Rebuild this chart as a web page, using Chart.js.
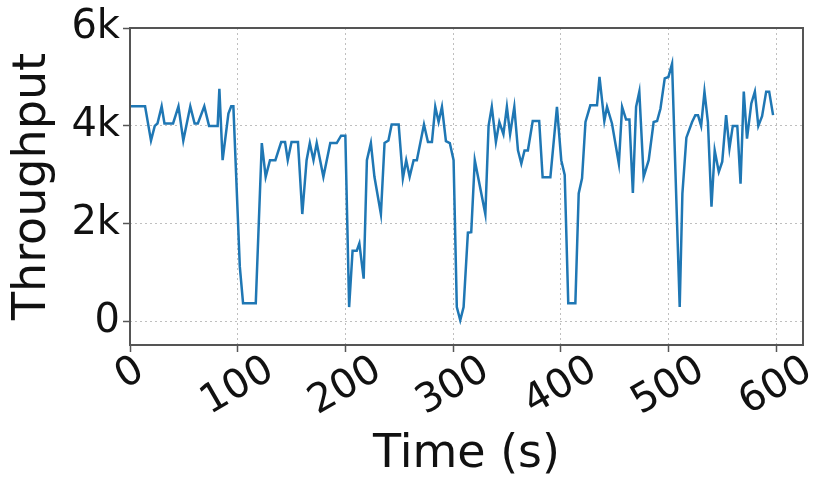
<!DOCTYPE html>
<html>
<head>
<meta charset="utf-8">
<script src="https://cdn.jsdelivr.net/npm/chart.js@4/dist/chart.umd.min.js"></script>
<style>
  html, body { margin: 0; padding: 0; background: #fff; }
</style>
</head>
<body>
<canvas id="lineChart" width="818" height="483"></canvas>
<script>
// time (s) of each sample and the throughput
const times = [
  0, 14, 19.5, 23, 25.5, 29.4, 32, 40, 45, 49.5, 56, 60, 63, 69, 73.4, 81.4, 83, 86, 91.4, 94, 96,
  102, 105, 116.8, 122.4, 126, 130, 135, 140.4, 144, 146.5, 150, 156, 160, 164, 167, 170.4, 173.4,
  179.6, 186, 192, 196, 200, 203.5, 206.7, 210.6, 213, 217, 220, 223.7, 227, 233, 236.4, 240, 243,
  249.5, 253.4, 256.5, 259.7, 263.4, 266.4, 273, 276.7, 280.4, 283.5, 286.6, 289.7, 293.4, 297,
  300.5, 303.5, 306.7, 309.8, 313.8, 316.9, 320.2, 330, 333, 336, 339.8, 343, 346.8, 350, 353,
  356.9, 360.3, 363.4, 366.4, 369.5, 374, 380, 383.2, 390.4, 396.5, 400.5, 403.7, 407, 413.6,
  416.7, 419.8, 423, 427.5, 433.7, 436, 440.5, 443, 447.6, 454, 457, 460.7, 463.8, 467, 470, 473,
  477, 481.7, 486.3, 489.5, 492.6, 496.6, 500, 503.4, 510.5, 513, 516.7, 522, 525, 527.5, 530.4,
  533.5, 536.7, 540, 543, 546.8, 550, 553.6, 556.7, 559.8, 564, 567, 570, 573, 577, 580.3, 583.5,
  587, 590.8, 593.6, 597.2
];
const throughput = [
  4400, 4400, 3700, 4000, 4050, 4400, 4050, 4050, 4400, 3700, 4400, 4050, 4050, 4400, 4000, 4000, 4760, 3300, 4250, 4400, 4400,
  1120, 380, 380, 3650, 2960, 3300, 3300, 3670, 3670, 3300, 3670, 3670, 2200, 3300, 3650, 3300, 3650,
  2960, 3650, 3650, 3800, 3800, 300, 1450, 1450, 1600, 880, 3300, 3650, 2960, 2200, 3650, 3700, 4030,
  4030, 2930, 3300, 2960, 3300, 3300, 4030, 3670, 3670, 4390, 4080, 4390, 3690, 3650,
  3300, 300, 30, 300, 1820, 1830, 3300, 2200, 4000, 4390, 3670, 4080, 3830, 4390, 3830,
  4390, 3500, 3230, 3500, 3500, 4100, 4100, 2950, 2950, 4390, 3300, 3000, 380, 380,
  2620, 2930, 4080, 4420, 4420, 5000, 4100, 4390, 4050, 3230, 4390, 4130, 4130, 2630, 4390, 4700,
  2960, 3300, 4080, 4100, 4350, 4970, 5000, 5270, 300, 2620, 3760, 4080, 4220, 4220, 4000,
  4700, 4080, 2350, 3500, 3060, 3270, 4220, 3540, 4000, 4000, 2820, 4700, 3740, 4460, 4700, 4000,
  4200, 4700, 4700, 4220
];
const xTicks = [0, 100, 200, 300, 400, 500, 600];
const yTicks = [0, 2000, 4000, 6000];
const yTickLabels = ["0", "2k", "4k", "6k"];

const FONT = "'DejaVu Sans', sans-serif";
const TICK_SIZE = 40;

// matplotlib style frame + centred, rotated x tick labels
const frameAndLabels = {
  id: "frameAndLabels",
  afterDraw(chart) {
    const { ctx, chartArea: a, scales } = chart;
    ctx.save();
    ctx.strokeStyle = "#555";
    ctx.lineWidth = 2;
    ctx.strokeRect(a.left, a.top, a.right - a.left, a.bottom - a.top);

    ctx.fillStyle = "#111";
    ctx.font = TICK_SIZE + "px " + FONT;
    ctx.textAlign = "center";
    ctx.textBaseline = "middle";
    const ang = Math.PI / 6;
    xTicks.forEach((v) => {
      const label = String(v);
      const w = ctx.measureText(label).width;
      const h = 0.73 * TICK_SIZE;
      const boxH = w * Math.sin(ang) + h * Math.cos(ang);
      const x = scales.x.getPixelForValue(v);
      const y = a.bottom + 10 + boxH / 2;
      ctx.save();
      ctx.translate(x, y);
      ctx.rotate(-ang);
      ctx.fillText(label, 0, 0);
      ctx.restore();
    });
    ctx.restore();
  },
};

const canvas = document.getElementById("lineChart");

new Chart(canvas, {
  type: "line",
  data: {
    datasets: [
      {
        label: "Throughput",
        data: times.map((t, i) => ({ x: t, y: throughput[i] })),
        borderColor: "#1f77b4",
        borderWidth: 2.5,
        pointRadius: 0,
        tension: 0,
        fill: false,
      },
    ],
  },
  options: {
    responsive: false,
    animation: false,
    layout: { padding: { top: 28, right: 15, left: 0, bottom: 0 } },
    plugins: { legend: { display: false }, tooltip: { enabled: false } },
    scales: {
      x: {
        type: "linear",
        min: 0,
        max: 625,
        afterBuildTicks: (scale) => {
          scale.ticks = xTicks.map((v) => ({ value: v }));
        },
        afterFit: (scale) => {
          scale.height = 138;
        },
        ticks: { display: false },
        grid: {
          color: "rgba(0,0,0,0.25)",
          lineWidth: 1,
          tickLength: 7,
          tickColor: "#555",
          tickWidth: 1.5,
        },
        border: { display: false, dash: [2, 3] },
        title: {
          display: true,
          text: "Time (s)",
          color: "#111",
          font: { family: FONT, size: 46, lineHeight: 1.2 },
          padding: { top: 0, bottom: 0 },
        },
      },
      y: {
        min: -475,
        max: 6000,
        afterBuildTicks: (scale) => {
          scale.ticks = yTicks.map((v) => ({ value: v }));
        },
        afterFit: (scale) => {
          scale.width = 130;
        },
        ticks: {
          color: "#111",
          padding: 3,
          font: { family: FONT, size: TICK_SIZE },
          callback: (v) => yTickLabels[yTicks.indexOf(v)],
        },
        grid: {
          color: "rgba(0,0,0,0.25)",
          lineWidth: 1,
          tickLength: 7,
          tickColor: "#555",
          tickWidth: 1.5,
        },
        border: { display: false, dash: [2, 3] },
        title: {
          display: true,
          text: "Throughput",
          color: "#111",
          font: { family: FONT, size: 46, lineHeight: 1.2 },
          padding: { top: 5, bottom: 0 },
        },
      },
    },
  },
  plugins: [frameAndLabels],
});
</script>
</body>
</html>
